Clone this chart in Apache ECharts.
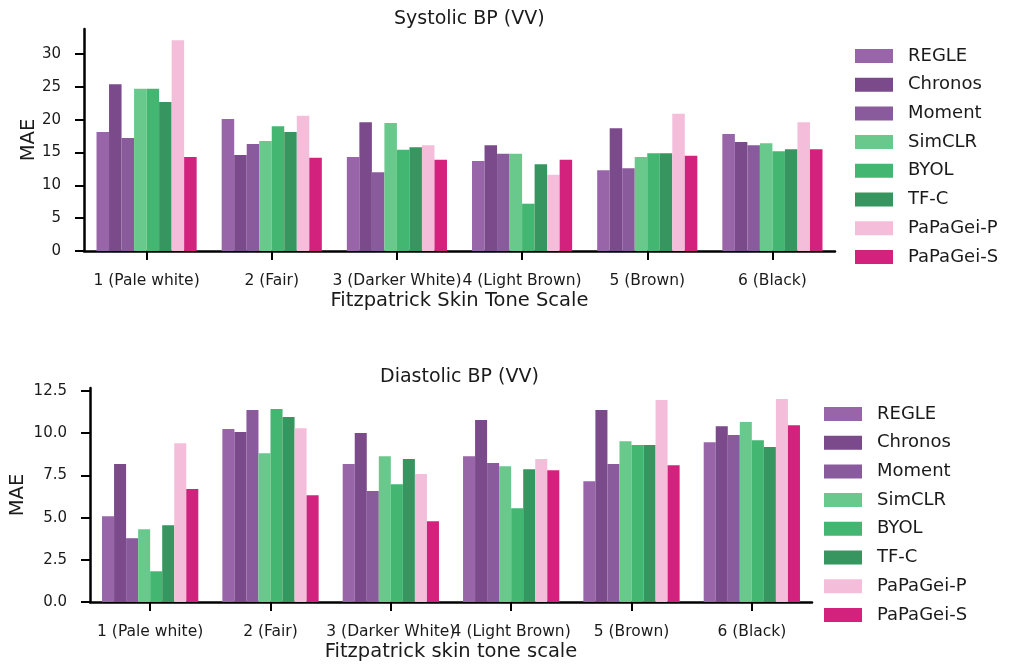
<!DOCTYPE html>
<html>
<head>
<meta charset="utf-8">
<script src="https://cdn.jsdelivr.net/npm/echarts@6/dist/echarts.min.js"></script>
<style>
html,body{margin:0;padding:0;background:#fff;}
#chart{width:1025px;height:664px;}
</style>
</head>
<body>
<div id="chart"></div>
<script>
const categories = ['1 (Pale white)', '2 (Fair)', '3 (Darker White)', '4 (Light Brown)', '5 (Brown)', '6 (Black)'];
const methods = ['REGLE', 'Chronos', 'Moment', 'SimCLR', 'BYOL', 'TF-C', 'PaPaGei-P', 'PaPaGei-S'];
const colors = ['#9765a8', '#7a4a8a', '#8a5b9c', '#69c98c', '#43b672', '#37955f', '#f4bedb', '#d3227e'];

// Systolic BP MAE per method (across skin tone categories)
const sysREGLE = [18.1, 20.1, 14.3, 13.7, 12.3, 17.8];
const sysChronos = [25.4, 14.6, 19.6, 16.1, 18.7, 16.6];
const sysMoment = [17.2, 16.3, 12.0, 14.8, 12.6, 16.1];
const sysSimCLR = [24.7, 16.75, 19.5, 14.8, 14.3, 16.4];
const sysBYOL = [24.7, 19.0, 15.4, 7.2, 14.9, 15.2];
const sysTFC = [22.7, 18.1, 15.8, 13.2, 14.9, 15.5];
const sysPaPaGeiP = [32.1, 20.6, 16.1, 11.6, 20.9, 19.6];
const sysPaPaGeiS = [14.3, 14.2, 13.9, 13.9, 14.5, 15.5];

// Diastolic BP MAE per method
const diaREGLE = [5.08, 10.25, 8.17, 8.64, 7.16, 9.47];
const diaChronos = [8.17, 10.07, 10.01, 10.78, 11.37, 10.42];
const diaMoment = [3.78, 11.37, 6.57, 8.23, 8.17, 9.89];
const diaSimCLR = [4.31, 8.82, 8.64, 8.05, 9.53, 10.66];
const diaBYOL = [1.82, 11.43, 6.98, 5.56, 9.30, 9.59];
const diaTFC = [4.55, 10.96, 8.47, 7.87, 9.30, 9.18];
const diaPaPaGeiP = [9.41, 10.30, 7.58, 8.47, 11.97, 12.03];
const diaPaPaGeiS = [6.69, 6.33, 4.79, 7.81, 8.11, 10.48];

const sysTicks = [0, 5, 10, 15, 20, 25, 30];
const diaTicks = [0, 2.5, 5, 7.5, 10, 12.5];

const sysData = [sysREGLE, sysChronos, sysMoment, sysSimCLR, sysBYOL, sysTFC, sysPaPaGeiP, sysPaPaGeiS];
const diaData = [diaREGLE, diaChronos, diaMoment, diaSimCLR, diaBYOL, diaTFC, diaPaPaGeiP, diaPaPaGeiS];

const FONT = 'DejaVu Sans';
const TXT = '#1a1a1a';

function xAxisCfg(gridIndex, name) {
  return {
    type: 'category', gridIndex: gridIndex, data: categories,
    boundaryGap: true,
    axisLine: {show: true, lineStyle: {color: '#000', width: 2.5}},
    axisTick: {show: true, alignWithLabel: true, length: 9, lineStyle: {color: '#000', width: 2}},
    axisLabel: {interval: 0, margin: 22, fontFamily: FONT, fontSize: 15.5, color: TXT},
    splitLine: {show: false},
    name: name, nameLocation: 'middle', nameGap: 40, nameMoveOverlap: false,
    nameTextStyle: {fontFamily: FONT, fontSize: 19.5, color: TXT}
  };
}
function yAxisCfg(gridIndex, max, ticks, fmt, nameGap) {
  return {
    type: 'value', gridIndex: gridIndex, min: 0, max: max,
    axisLine: {show: true, lineStyle: {color: '#000', width: 2.5}},
    axisTick: {show: true, length: 9, lineStyle: {color: '#000', width: 2}, customValues: ticks},
    axisLabel: {margin: 23, fontFamily: FONT, fontSize: 15, color: TXT, customValues: ticks, formatter: fmt},
    splitLine: {show: false},
    name: 'MAE', nameLocation: 'middle', nameGap: nameGap, nameRotate: 90, nameMoveOverlap: false,
    nameTextStyle: {fontFamily: FONT, fontSize: 19.5, color: TXT}
  };
}

const series = [];
methods.forEach(function (m, i) {
  series.push({
    name: m, type: 'bar', xAxisIndex: 0, yAxisIndex: 0, data: sysData[i],
    itemStyle: {color: colors[i]}, barGap: '0%', barCategoryGap: '20%'
  });
});
methods.forEach(function (m, i) {
  series.push({
    name: m, type: 'bar', xAxisIndex: 1, yAxisIndex: 1, data: diaData[i],
    itemStyle: {color: colors[i]}, barGap: '0%', barCategoryGap: '20%'
  });
});

function legendCfg(left, top) {
  return {
    data: methods, orient: 'vertical', left: left, top: top, padding: 0,
    icon: 'rect', itemWidth: 38, itemHeight: 14, itemGap: 10.7,
    selectedMode: false,
    textStyle: {fontFamily: FONT, fontSize: 18, color: TXT, padding: [0, 0, 0, 10]}
  };
}

const option = {
  animation: false,
  backgroundColor: '#fff',
  title: [
    {text: 'Systolic BP (VV)', left: 389, top: 5, textStyle: {fontFamily: FONT, fontSize: 19, fontWeight: 'normal', color: TXT}},
    {text: 'Diastolic BP (VV)', left: 375, top: 363, textStyle: {fontFamily: FONT, fontSize: 19, fontWeight: 'normal', color: TXT}}
  ],
  legend: [legendCfg(855, 47), legendCfg(824, 405)],
  grid: [
    {left: 84, right: 190, top: 29, bottom: 413, containLabel: false},
    {left: 88, right: 213, top: 388, bottom: 62, containLabel: false}
  ],
  xAxis: [xAxisCfg(0, 'Fitzpatrick Skin Tone Scale'), xAxisCfg(1, 'Fitzpatrick skin tone scale')],
  yAxis: [
    yAxisCfg(0, 33.8, sysTicks, function (v) { return String(v); }, 45),
    yAxisCfg(1, 12.68, diaTicks, function (v) { return v.toFixed(1); }, 62)
  ],
  series: series
};

const chart = echarts.init(document.getElementById('chart'), null, {renderer: 'canvas'});
chart.setOption(option);
</script>
</body>
</html>
